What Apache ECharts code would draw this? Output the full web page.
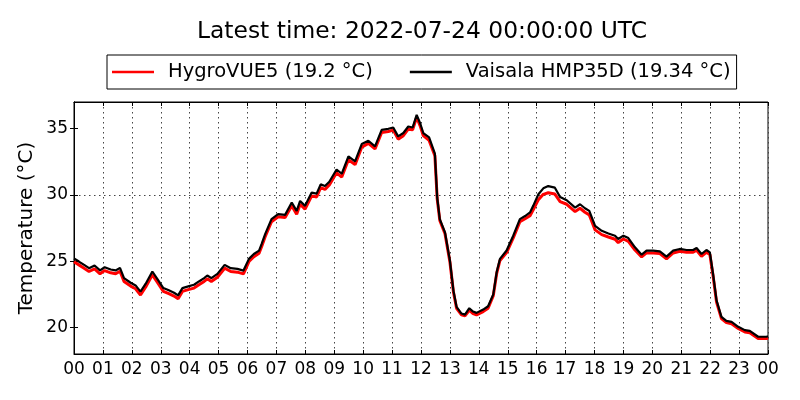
<!DOCTYPE html>
<html>
<head>
    <meta charset="UTF-8">
    <title>Temperature</title>
    <script src="https://cdn.jsdelivr.net/npm/echarts@6/dist/echarts.min.js"></script>
    <style>
        body { margin: 0; background: #fff; }
    </style>
</head>
<body>
    <div id="chart" style="width:800px; height:400px;"></div>

    <script>
        // time of day in hours (UTC)
        var hours = [
            0.00, 0.17, 0.35, 0.52, 0.71, 0.90, 1.06, 1.27, 1.44, 1.59,
            1.73, 1.96, 2.13, 2.30, 2.48, 2.71, 2.88, 3.09, 3.28, 3.46,
            3.60, 3.75, 3.98, 4.15, 4.32, 4.50, 4.61, 4.75, 4.96, 5.21,
            5.42, 5.65, 5.86, 6.05, 6.22, 6.40, 6.49, 6.61, 6.83, 7.06,
            7.30, 7.53, 7.70, 7.82, 7.99, 8.22, 8.39, 8.53, 8.68, 8.83,
            9.08, 9.26, 9.49, 9.72, 9.95, 10.18, 10.41, 10.64, 10.87, 11.04,
            11.21, 11.39, 11.56, 11.71, 11.85, 11.97, 12.08, 12.28, 12.48, 12.56,
            12.65, 12.83, 13.00, 13.12, 13.23, 13.40, 13.52, 13.67, 13.80, 13.92,
            14.15, 14.32, 14.50, 14.62, 14.73, 14.96, 15.19, 15.42, 15.60, 15.77,
            15.88, 16.06, 16.23, 16.40, 16.63, 16.81, 17.04, 17.33, 17.50, 17.67,
            17.82, 18.02, 18.25, 18.48, 18.71, 18.82, 19.00, 19.17, 19.40, 19.63,
            19.80, 20.03, 20.26, 20.49, 20.72, 20.95, 21.18, 21.41, 21.53, 21.70,
            21.87, 21.99, 22.10, 22.22, 22.39, 22.56, 22.74, 22.97, 23.20, 23.37,
            23.66, 23.95, 24.00
        ];

        // HygroVUE5 (red)
        var hygroVue5 = [
            24.95, 24.72, 24.47, 24.22, 24.42, 24.05, 24.29, 24.12, 24.05, 24.24,
            23.47, 23.12, 22.92, 22.45, 23.05, 23.97, 23.42, 22.72, 22.55, 22.37,
            22.17, 22.72, 22.87, 22.97, 23.22, 23.47, 23.67, 23.47, 23.79, 24.47,
            24.22, 24.17, 24.04, 24.97, 25.34, 25.60, 26.10, 26.84, 27.97, 28.34,
            28.29, 29.17, 28.54, 29.29, 28.92, 29.92, 29.84, 30.54, 30.41, 30.74,
            31.66, 31.34, 32.65, 32.28, 33.60, 33.88, 33.46, 34.70, 34.78, 34.88,
            34.20, 34.46, 34.95, 34.90, 35.85, 35.20, 34.46, 34.10, 32.95, 29.70,
            28.07, 27.07, 24.94, 22.70, 21.45, 20.95, 20.87, 21.30, 21.05, 20.95,
            21.20, 21.45, 22.40, 24.10, 25.05, 25.65, 26.75, 27.97, 28.20, 28.42,
            28.87, 29.64, 30.04, 30.16, 30.06, 29.49, 29.29, 28.74, 28.99, 28.69,
            28.49, 27.36, 27.00, 26.82, 26.65, 26.40, 26.67, 26.50, 25.84, 25.32,
            25.62, 25.62, 25.57, 25.17, 25.62, 25.75, 25.67, 25.67, 25.82, 25.37,
            25.67, 25.50, 23.90, 21.92, 20.67, 20.37, 20.28, 19.92, 19.66, 19.60,
            19.16, 19.17, 19.20
        ];

        // Vaisala HMP35D (black)
        var hmp35d = [
            25.20, 24.97, 24.72, 24.47, 24.67, 24.30, 24.54, 24.37, 24.30, 24.49,
            23.72, 23.37, 23.17, 22.70, 23.30, 24.22, 23.67, 22.97, 22.80, 22.62,
            22.42, 22.97, 23.12, 23.22, 23.47, 23.72, 23.92, 23.72, 24.04, 24.72,
            24.47, 24.42, 24.29, 25.17, 25.54, 25.80, 26.30, 27.04, 28.17, 28.54,
            28.49, 29.42, 28.79, 29.54, 29.17, 30.17, 30.09, 30.79, 30.66, 30.99,
            31.91, 31.59, 32.90, 32.53, 33.83, 34.08, 33.66, 34.90, 34.98, 35.08,
            34.41, 34.66, 35.15, 35.08, 36.03, 35.40, 34.66, 34.33, 33.10, 29.80,
            28.17, 27.17, 25.04, 22.80, 21.55, 21.05, 20.97, 21.45, 21.20, 21.10,
            21.35, 21.60, 22.50, 24.20, 25.17, 25.80, 26.92, 28.17, 28.40, 28.67,
            29.17, 30.04, 30.49, 30.66, 30.54, 29.84, 29.59, 29.04, 29.29, 28.99,
            28.79, 27.66, 27.29, 27.09, 26.92, 26.67, 26.92, 26.74, 26.04, 25.49,
            25.79, 25.79, 25.74, 25.34, 25.79, 25.92, 25.84, 25.84, 25.99, 25.54,
            25.84, 25.66, 24.04, 22.05, 20.80, 20.50, 20.42, 20.05, 19.80, 19.75,
            19.30, 19.30, 19.34
        ];

        var yTicks = [20, 25, 30, 35];
        var titleText = 'Latest time: 2022-07-24 00:00:00 UTC';
        var nameRed = 'HygroVUE5 (19.2 °C)';
        var nameBlack = 'Vaisala HMP35D (19.34 °C)';

        function pairs(xs, ys) {
            var out = [];
            for (var i = 0; i < xs.length; i++) out.push([xs[i], ys[i]]);
            return out;
        }

        function hourLabel(v) {
            var h = Math.round(v) % 24;
            return (h < 10 ? '0' : '') + h;
        }

        var font = 'DejaVu Sans';
        var chart = echarts.init(document.getElementById('chart'), null, {renderer: 'canvas'});

        chart.setOption({
            animation: false,
            backgroundColor: '#fff',
            title: {
                text: titleText,
                left: 197,
                top: 20,
                padding: 0,
                textStyle: {fontFamily: font, fontSize: 23.4, fontWeight: 'normal', color: '#000'}
            },
            legend: {
                left: 107,
                top: 55,
                itemWidth: 42,
                itemHeight: 2.5,
                itemGap: 37,
                padding: [7, 6, 7, 5],
                borderColor: '#000',
                borderWidth: 1,
                borderRadius: 0,
                icon: 'rect',
                textStyle: {fontFamily: font, fontSize: 19.5, color: '#000', padding: [0, 0, 0, 9]},
                data: [nameRed, nameBlack]
            },
            grid: {
                left: 74, right: 32, top: 102, bottom: 46,
                show: true, borderColor: '#000', borderWidth: 1,
                containLabel: false
            },
            xAxis: [{
                type: 'value',
                min: 0, max: 24, interval: 1,
                axisLine: {show: true, lineStyle: {color: '#000', width: 1}},
                axisTick: {show: true, inside: true, length: 4, lineStyle: {color: '#000'}},
                axisLabel: {fontFamily: font, fontSize: 17, color: '#000', margin: 7, formatter: hourLabel},
                splitLine: {show: true, lineStyle: {color: '#444', width: 1, type: [1.5, 3.5]}}
            }, {
                type: 'value', position: 'top',
                min: 0, max: 24, interval: 1,
                axisLine: {show: true, lineStyle: {color: '#000', width: 1}},
                axisTick: {show: true, inside: true, length: 4, lineStyle: {color: '#000'}},
                axisLabel: {show: false},
                splitLine: {show: false}
            }],
            yAxis: [{
                type: 'value',
                min: 18, max: 37, interval: 1,
                name: 'Temperature (°C)',
                nameLocation: 'middle',
                nameRotate: 90,
                nameGap: 37,
                nameMoveOverlap: false,
                nameTextStyle: {fontFamily: font, fontSize: 20, color: '#000'},
                axisLine: {show: true, lineStyle: {color: '#000', width: 1}},
                axisTick: {show: true, inside: true, length: 4, lineStyle: {color: '#000'}, customValues: yTicks},
                axisLabel: {
                    fontFamily: font, fontSize: 17, color: '#000', margin: 6,
                    customValues: yTicks,
                    formatter: function (v) { return v % 5 === 0 ? String(v) : ''; }
                },
                // lines only at 20, 25, 30, 35 (ticks start at 18)
                splitLine: {show: true, lineStyle: {
                    color: ['rgba(0,0,0,0)', 'rgba(0,0,0,0)', '#444', 'rgba(0,0,0,0)', 'rgba(0,0,0,0)'],
                    width: 1, type: [1.5, 3.5]
                }}
            }, {
                type: 'value', position: 'right',
                min: 18, max: 37, interval: 1,
                axisLine: {show: true, lineStyle: {color: '#000', width: 1}},
                axisTick: {show: true, inside: true, length: 4, lineStyle: {color: '#000'}, customValues: yTicks},
                axisLabel: {show: false},
                splitLine: {show: false}
            }],
            series: [{
                name: nameRed,
                type: 'line',
                color: '#ff0000',
                showSymbol: false,
                symbol: 'none',
                lineStyle: {color: '#ff0000', width: 3},
                data: pairs(hours, hygroVue5)
            }, {
                name: nameBlack,
                type: 'line',
                color: '#000000',
                showSymbol: false,
                symbol: 'none',
                lineStyle: {color: '#000000', width: 2.2},
                data: pairs(hours, hmp35d)
            }]
        });
    </script>
</body>
</html>
